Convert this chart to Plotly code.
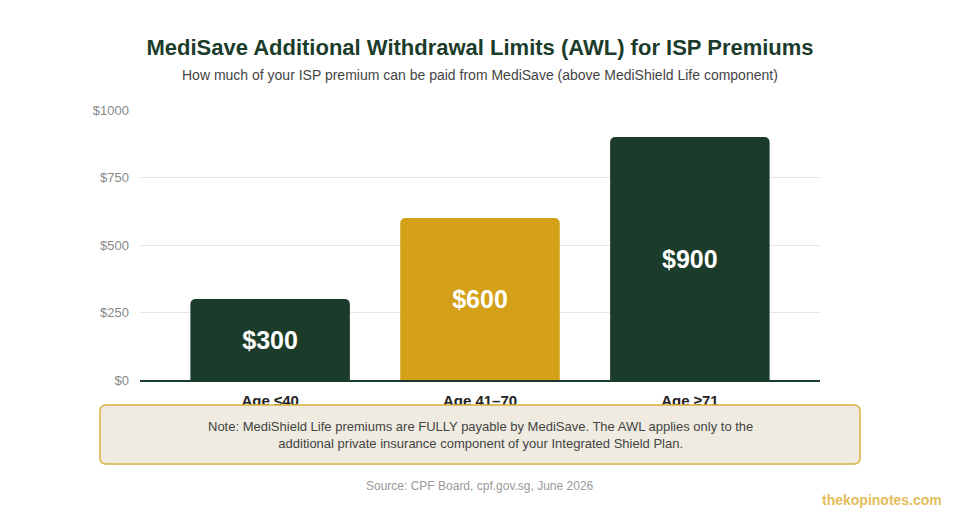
import plotly.graph_objects as go

# ── data ─────────────────────────────────────────────────────────────────────
categories = ["Age ≤40", "Age 41–70", "Age ≥71"]
awl_limits = [300, 600, 900]
bar_labels = ["$300", "$600", "$900"]
tick_vals = [0, 250, 500, 750, 1000]
tick_text = ["$0", "$250", "$500", "$750", "$1000"]

GREEN = "#1c3c2b"
GOLD = "#d4a017"
FONT = "Arial, Liberation Sans, sans-serif"

W, H = 960, 520
OFF = 8   # page body margin: figure sits 8px in from the window corner
L, R, T, B = 132, 148, 102, 148   # plot area on screen: x 140..820, y 110..380


def px(x):   # screen pixel -> paper x
    return (x - OFF - L) / (W - L - R)


def py(y):   # screen pixel -> paper y
    return (H - B - (y - OFF)) / (H - T - B)


def rounded_box(x0, y0, x1, y1, r):
    # rounded rectangle path in paper coords, built from screen pixel corners
    pts = [
        f"M {px(x0 + r)},{py(y0)}",
        f"L {px(x1 - r)},{py(y0)}",
        f"Q {px(x1)},{py(y0)} {px(x1)},{py(y0 + r)}",
        f"L {px(x1)},{py(y1 - r)}",
        f"Q {px(x1)},{py(y1)} {px(x1 - r)},{py(y1)}",
        f"L {px(x0 + r)},{py(y1)}",
        f"Q {px(x0)},{py(y1)} {px(x0)},{py(y1 - r)}",
        f"L {px(x0)},{py(y0 + r)}",
        f"Q {px(x0)},{py(y0)} {px(x0 + r)},{py(y0)}",
        "Z",
    ]
    return " ".join(pts)


fig = go.Figure()
fig.add_trace(go.Bar(
    x=categories, y=awl_limits,
    text=bar_labels, textposition="inside", insidetextanchor="middle",
    textfont=dict(color="white", size=25, family=FONT, weight="bold"),
    marker=dict(color=[GREEN, GOLD, GREEN], cornerradius=5, line_width=0),
    width=0.76, hoverinfo="skip",
))

fig.update_layout(
    width=W, height=H,
    margin=dict(l=L, r=R, t=T, b=B),
    paper_bgcolor="white", plot_bgcolor="white",
    showlegend=False,
    font=dict(family=FONT),
    title=dict(
        text="<b>MediSave Additional Withdrawal Limits (AWL) for ISP Premiums</b>",
        x=px(480), xref="paper", xanchor="center",
        y=1 - (47 - OFF) / H, yanchor="middle",
        font=dict(size=22, color=GREEN),
    ),
    xaxis=dict(
        range=[-0.62, 2.62], showgrid=False, ticks="",
        showline=True, linecolor=GREEN, linewidth=2,
        tickfont=dict(size=15, color="#222", weight="bold"),
        ticklabelstandoff=6,
        fixedrange=True,
    ),
    yaxis=dict(
        range=[0, 1000], tickvals=tick_vals, ticktext=tick_text,
        gridcolor="#e6e6e6", gridwidth=1, zeroline=False,
        tickfont=dict(size=13, color="#888"), ticks="", ticklabelstandoff=10,
        fixedrange=True,
    ),
)

# subtitle
fig.add_annotation(
    text="How much of your ISP premium can be paid from MediSave (above MediShield Life component)",
    xref="paper", yref="paper", x=px(480), y=py(75), xanchor="center", yanchor="middle",
    showarrow=False, font=dict(size=14, color="#444"),
)

# note box
fig.add_shape(
    type="path", xref="paper", yref="paper", layer="above",
    path=rounded_box(100, 405, 860, 464, 6),
    fillcolor="#efebe0", line=dict(color="#dcb040", width=1.5),
)
fig.add_annotation(
    text="Note: MediShield Life premiums are FULLY payable by MediSave. The AWL applies only to the<br>"
         "additional private insurance component of your Integrated Shield Plan.",
    xref="paper", yref="paper", x=px(480), y=py(435), xanchor="center", yanchor="middle",
    showarrow=False, align="center", font=dict(size=13, color="#444"),
)

# source + brand
fig.add_annotation(
    text="Source: CPF Board, cpf.gov.sg, June 2026",
    xref="paper", yref="paper", x=px(480), y=py(486), xanchor="center", yanchor="middle",
    showarrow=False, font=dict(size=12, color="#999"),
)
fig.add_annotation(
    text="<b>thekopinotes.com</b>",
    xref="paper", yref="paper", x=px(944), y=py(500), xanchor="right", yanchor="middle",
    showarrow=False, font=dict(size=14, color="#e3bd5a"),
)

fig.write_html("out.html")
